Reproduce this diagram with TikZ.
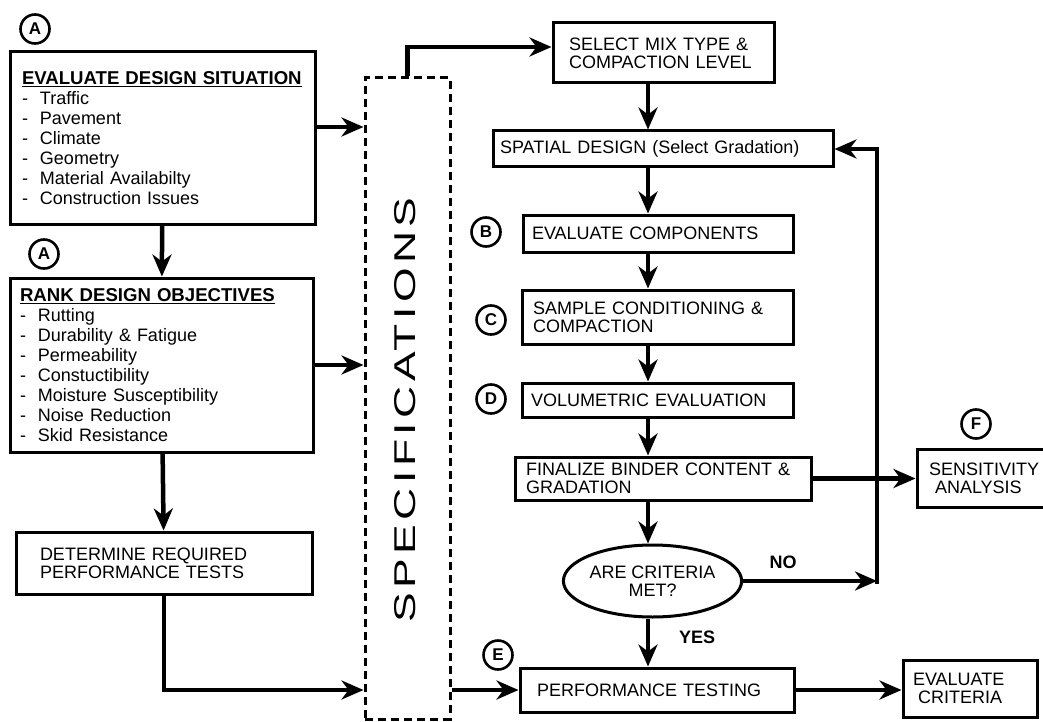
\documentclass[tikz,border=0pt]{standalone}
\usepackage{fontspec}
\usepackage{graphicx}
\setmainfont{Liberation Sans}
\newfontfamily\specfont[LetterSpace=10]{Liberation Sans}
\usetikzlibrary{
  arrows.meta,
  positioning,
  shapes.geometric
}
\definecolor{flowInk}{HTML}{000000}
\tikzset{
  every node/.style={font=\fontsize{18pt}{18pt}\selectfont, text=flowInk},
  procbox/.style={
    draw=flowInk,
    line width=3pt,
    fill=white,
    align=left,
    inner ysep=0pt
  },
  listbox/.style={
    procbox,
    font=\fontsize{18pt}{20pt}\selectfont
  },
  decision/.style={
    ellipse,
    draw=flowInk,
    line width=3pt,
    align=center,
    inner sep=0pt
  },
  tag/.style={
    circle,
    draw=flowInk,
    line width=2.6pt,
    minimum size=29pt,
    inner sep=0pt,
    font=\fontsize{17pt}{17pt}\selectfont\bfseries
  },
  answer/.style={font=\fontsize{18pt}{18pt}\selectfont\bfseries},
  specframe/.style={
    draw=flowInk,
    line width=3pt,
    dash pattern=on 8pt off 5pt
  },
  link/.style={
    -{Stealth[length=22pt,width=19pt,inset=7pt]},
    line width=4.5pt,
    draw=flowInk
  }
}
\newcommand{\flowitem}[1]{\makebox[18pt][l]{-}#1}
\newcommand{\flowtitle}[1]{\underline{\fontsize{18.6pt}{20pt}\selectfont\textbf{#1}}}

\begin{document}
\begin{tikzpicture}[x=1pt, y=-1pt]
  \clip (0,0) rectangle (1043,722);

  % left column
  \node[listbox, text width=281pt, inner xsep=12pt, minimum height=172pt] (situation) at (162.5,138) {
    \flowtitle{EVALUATE DESIGN SITUATION}\\
    \flowitem{Traffic}\\
    \flowitem{Pavement}\\
    \flowitem{Climate}\\
    \flowitem{Geometry}\\
    \flowitem{Material Availabilty}\\
    \flowitem{Construction Issues}
  };
  \node[listbox, text width=283pt, inner xsep=10pt, minimum height=174pt] (objectives) at (161.5,365) {
    \flowtitle{RANK DESIGN OBJECTIVES}\\
    \flowitem{Rutting}\\
    \flowitem{Durability \& Fatigue}\\
    \flowitem{Permeability}\\
    \flowitem{Constuctibility}\\
    \flowitem{Moisture Susceptibility}\\
    \flowitem{Noise Reduction}\\
    \flowitem{Skid Resistance}
  };
  \node[procbox, text width=248pt, inner xsep=24pt, minimum height=62pt] (tests) at (164,563) {
    DETERMINE REQUIRED\\PERFORMANCE TESTS
  };

  \node[tag] (tagA1) at (35,29) {A};
  \node[tag] (tagA2) at (44,254) {A};

  % specifications frame
  \node[specframe, minimum width=85pt, minimum height=641pt, inner sep=0pt] (specs) at (407.5,398.5) {};
  \node[rotate=90, inner sep=0pt] (specstext) at (405.5,410) {\resizebox{425pt}{21pt}{\specfont SPECIFICATIONS}};

  % right column
  \node[procbox, text width=189pt, inner xsep=16pt, minimum height=60pt] (mixtype) at (663.5,53) {
    SELECT MIX TYPE \&\\COMPACTION LEVEL
  };
  \node[procbox, text width=326pt, inner xsep=7pt, minimum height=36pt] (spatial) at (663,149) {
    SPATIAL DESIGN (Select Gradation)
  };
  \node[procbox, text width=252pt, inner xsep=9pt, minimum height=37pt] (components) at (658,233.5) {
    EVALUATE COMPONENTS
  };
  \node[procbox, text width=249pt, inner xsep=11pt, minimum height=54pt] (conditioning) at (657.5,317) {
    SAMPLE CONDITIONING \&\\COMPACTION
  };
  \node[procbox, text width=253pt, inner xsep=9pt, minimum height=34pt] (volumetric) at (657.5,400) {
    VOLUMETRIC EVALUATION
  };
  \node[procbox, text width=274pt, inner xsep=11pt, minimum height=43pt] (finalize) at (663,478.5) {
    FINALIZE BINDER CONTENT \&\\GRADATION
  };
  \node[decision, minimum width=169pt, minimum height=72pt] (criteria) at (652.5,581) {
    ARE CRITERIA\\MET?
  };
  \node[procbox, text width=240pt, inner xsep=17pt, minimum height=44pt] (perftest) at (657,690) {
    PERFORMANCE TESTING
  };
  \node[procbox, text width=109pt, inner xsep=12pt, minimum height=58pt] (sensitivity) at (983.5,478) {
    SENSITIVITY\\\hspace*{6pt}ANALYSIS
  };
  \node[procbox, text width=114pt, inner xsep=10pt, minimum height=57pt] (evalcrit) at (970,688.5) {
    EVALUATE\\\hspace*{5pt}CRITERIA
  };

  \node[tag] (tagB) at (486,232) {B};
  \node[tag] (tagC) at (491,320) {C};
  \node[tag] (tagD) at (491,399) {D};
  \node[tag] (tagE) at (498,655) {E};
  \node[tag] (tagF) at (976,424) {F};

  \node[answer] (no) at (783,562) {NO};
  \node[answer] (yes) at (697,637) {YES};

  \coordinate (spine) at (648,0);
  \coordinate (loop) at (877,584);

  \draw[link] (situation) -- (objectives);
  \draw[link] (objectives) -- (tests);
  \draw[link] ([yshift=11pt]situation.east) -- ([yshift=11pt]situation.east -| specs.west);
  \draw[link] (objectives.east) -- (objectives.east -| specs.west);
  \draw[link] (tests.south) |- (specs.west |- perftest.west);
  \draw[link] (specs.east |- perftest.west) -- (perftest.west);
  \draw[link] (specs.north) |- ([yshift=6pt]mixtype.west);

  \draw[link] (mixtype.south -| spine) -- (spatial.north -| spine);
  \draw[link] (spatial.south -| spine) -- (components.north -| spine);
  \draw[link] (components.south -| spine) -- (conditioning.north -| spine);
  \draw[link] (conditioning.south -| spine) -- (volumetric.north -| spine);
  \draw[link] (volumetric.south -| spine) -- (finalize.north -| spine);
  \draw[link] (finalize.south -| spine) -- (criteria.north -| spine);
  \draw[link] (criteria.south -| spine) -- (perftest.north -| spine);

  \draw[link] (finalize.east) -- (finalize.east -| sensitivity.west);
  \draw[link] (criteria.east) -- (criteria.east -| loop);
  \draw[link] (loop) |- (spatial.east);
  \draw[link] (perftest.east) -- (perftest.east -| evalcrit.west);
\end{tikzpicture}
\end{document}
